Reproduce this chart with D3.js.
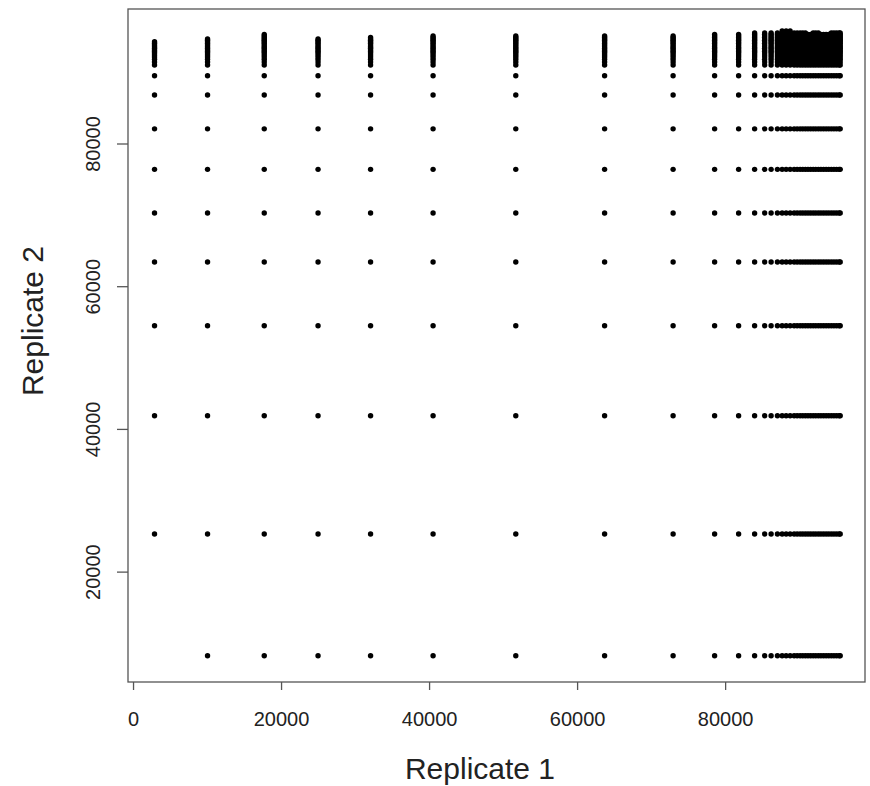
<!DOCTYPE html>
<html>
<head>
<meta charset="utf-8">
<script src="https://cdn.jsdelivr.net/npm/d3@7"></script>
<style>
  body { margin: 0; background: #fff; }
  text { font-family: "Liberation Sans", Arial, sans-serif; fill: #222; }
</style>
</head>
<body>
<div class="chart__wrapper"></div>
<script>
// distinct values on each axis (tied ranks)
const xLevels = [2905, 10068, 17730, 25000, 32095, 40541, 51716, 63716, 72973,
  78581, 81824, 83986, 85338, 86216, 87068, 87703, 88243, 88784, 89324, 89730,
  90135, 90500, 90850, 91200, 91550, 91900, 92250, 92600, 92950, 93300, 93650,
  94000, 94350, 94700, 95050, 95400, 95550];
const yLevels = [8213, 25270, 41850, 54460, 63390, 70270, 76380, 82050, 86800,
  89500, 91000, 91420, 91800, 92120, 92400, 92680, 92900, 93100, 93340, 93570,
  93800, 94040, 94270, 94470, 94650, 94860, 95070, 95280, 95490, 95770, 96050];
// for each x column: lowest and highest y level index that has a point
const colStart = [1, 0, 0, 0, 0, 0, 0, 0, 0, 0, 0, 0, 0, 0, 0, 0, 0, 0, 0, 0,
  0, 0, 0, 0, 0, 0, 0, 0, 0, 0, 0, 0, 0, 0, 0, 0, 0];
const colTop = [22, 24, 27, 24, 25, 26, 26, 26, 26, 27, 27, 28, 28, 28, 28, 29,
  29, 29, 28, 28, 28, 28, 28, 27, 27, 28, 28, 28, 27, 27, 27, 27, 28, 28, 28,
  28, 28];
const xTicks = [0, 20000, 40000, 60000, 80000];
const yTicks = [20000, 40000, 60000, 80000];

const points = [];
xLevels.forEach((xv, i) => {
  for (let j = colStart[i]; j <= colTop[i]; j++) {
    points.push({ x: xv, y: yLevels[j] });
  }
});

const svgWidth = 870;
const svgHeight = 786;
const plot = { left: 128, right: 865, top: 9, bottom: 682 };

const svg = d3
  .select(".chart__wrapper")
  .append("svg")
  .attr("width", svgWidth)
  .attr("height", svgHeight);

const x = d3.scaleLinear().domain([-680, 98900]).range([plot.left, plot.right]);
const y = d3.scaleLinear().domain([4530, 98850]).range([plot.bottom, plot.top]);

svg
  .append("g")
  .selectAll("circle")
  .data(points)
  .enter()
  .append("circle")
  .attr("cx", (d) => x(d.x))
  .attr("cy", (d) => y(d.y))
  .attr("r", 2.7)
  .attr("fill", "#000");

// box
svg
  .append("rect")
  .attr("x", plot.left)
  .attr("y", plot.top)
  .attr("width", plot.right - plot.left)
  .attr("height", plot.bottom - plot.top)
  .attr("fill", "none")
  .attr("stroke", "#555")
  .attr("stroke-width", 1.3);

const xAxis = svg
  .append("g")
  .attr("transform", `translate(0,${plot.bottom})`)
  .call(d3.axisBottom(x).tickValues(xTicks).tickFormat(d3.format("d")).tickSize(8).tickPadding(22));
xAxis.select(".domain").remove();
xAxis.selectAll("line").attr("stroke", "#555").attr("stroke-width", 1.3);
xAxis.selectAll("text").style("font-size", "20px").attr("fill", "#222");

const yAxis = svg
  .append("g")
  .attr("transform", `translate(${plot.left},0)`)
  .call(d3.axisLeft(y).tickValues(yTicks).tickFormat(d3.format("d")).tickSize(11));
yAxis.select(".domain").remove();
yAxis.selectAll("line").attr("stroke", "#555").attr("stroke-width", 1.3);
yAxis
  .selectAll("text")
  .style("font-size", "20px")
  .attr("fill", "#222")
  .attr("transform", "rotate(-90)")
  .attr("text-anchor", "middle")
  .attr("x", 0)
  .attr("y", -28)
  .attr("dy", 0);

svg
  .append("text")
  .attr("x", 480)
  .attr("y", 779)
  .attr("text-anchor", "middle")
  .style("font-size", "30px")
  .text("Replicate 1");

svg
  .append("text")
  .attr("transform", "translate(43,321) rotate(-90)")
  .attr("text-anchor", "middle")
  .style("font-size", "30px")
  .text("Replicate 2");
</script>
</body>
</html>
